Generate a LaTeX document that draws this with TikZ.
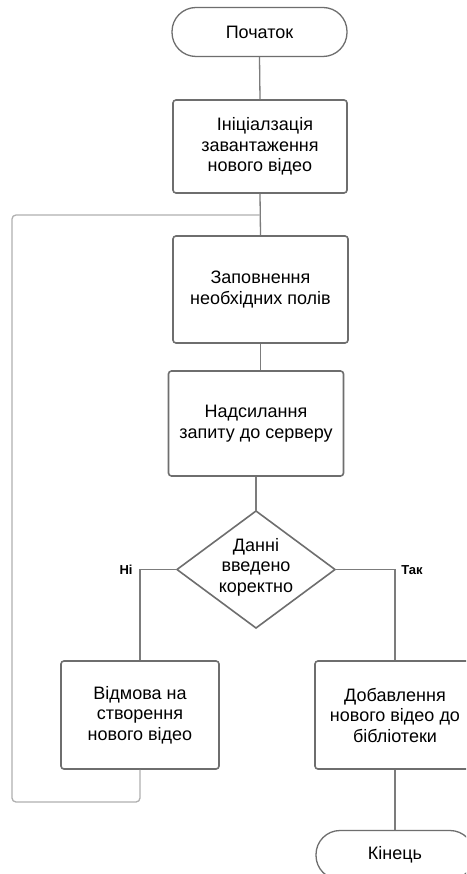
\documentclass[tikz,border=0pt]{standalone}
\usepackage{fontspec}
\setmainfont{Liberation Sans}
\begin{document}
\begin{tikzpicture}[x=1pt,y=-1pt,
  txt/.style={font=\fontsize{18}{20.5}\selectfont},
  boxstyle/.style={draw=boxgray, line width=1.6pt, rounded corners=3pt, fill=white,
    inner sep=0pt, align=center, txt},
  termstyle/.style={draw=boxgray, line width=1.3pt, rounded corners=24pt, fill=white,
    inner sep=0pt, align=center, txt},
  decstyle/.style={draw=boxgray, line width=1.6pt, fill=white},
  conn/.style={draw=linegray, line width=1.3pt},
  loopline/.style={draw=loopgray, line width=1.3pt, rounded corners=4pt},
  lbl/.style={font=\fontsize{13}{15}\selectfont\bfseries, inner sep=0pt}
]
\definecolor{boxgray}{HTML}{6E6E6E}
\definecolor{linegray}{HTML}{7C7C7C}
\definecolor{loopgray}{HTML}{B0B0B0}
\useasboundingbox (0,0) rectangle (466,874);
\clip (0,0) rectangle (466,874);
\fill[white] (0,0) rectangle (466,874);

% nodes
\node[termstyle, minimum width=175pt, minimum height=49pt] (start) at (259.5,32) {Початок};
\node[boxstyle, minimum width=174pt, minimum height=93pt] (b1) at (260,146.5)
  {\hspace*{10pt}Ініціалзація\\завантаження\\нового відео};
\coordinate (j) at (260,215);
\node[boxstyle, minimum width=175pt, minimum height=107pt] (b2) at (260.5,289.5)
  {Заповнення\\необхідних полів};
\node[boxstyle, minimum width=175pt, minimum height=105pt] (b3) at (256,423.5)
  {Надсилання\\запиту до серверу};
\draw[decstyle] (256,511) coordinate (dtop) -- (335,569.5) coordinate (dright)
  -- (256,628) coordinate (dbot) -- (177,569.5) coordinate (dleft) -- cycle;
\node[inner sep=0pt, align=center, txt] (dec) at (256,567)
  {Данні\\введено\\коректно};
\node[boxstyle, minimum width=158pt, minimum height=108pt] (b4) at (140,715)
  {Відмова на\\створення\\нового відео};
\node[boxstyle, minimum width=160pt, minimum height=108pt] (b5) at (395,715)
  {Добавлення\\нового відео до\\бібліотеки};
\node[termstyle, minimum width=158pt, minimum height=49pt] (end) at (395,855) {Кінець};

\coordinate (lno) at (140,569.5);
\coordinate (lyes) at (395,569.5);
\coordinate (lb) at (140,802);
\coordinate (lbl) at (12,802);
\coordinate (ltl) at (12,215);

% connectors
\draw[conn] (start.south) -- (b1.north);
\draw[conn] (b1.south) -- (b2.north);
\draw[conn] (b2.south) -- (b2.south |- b3.north);
\draw[conn] (b3.south -| dtop) -- (dtop);
\draw[conn] (dleft) -- (lno) -- (b4.north);
\draw[conn] (dright) -- (lyes) -- (b5.north);
\draw[conn] (b5.south) -- (end.north);
\draw[loopline] (b4.south) -- (lb) -- (lbl) -- (ltl) -- (j);

\node[lbl] (no) at (126,570) {Ні};
\node[lbl] (yes) at (412,570) {Так};
\end{tikzpicture}
\end{document}
